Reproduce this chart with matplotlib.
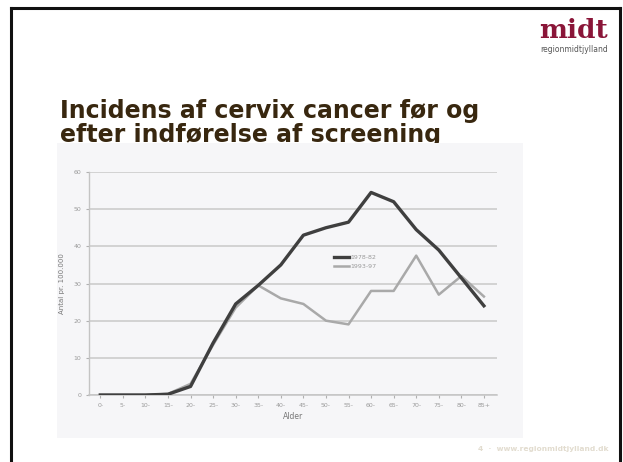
import matplotlib
matplotlib.use("Agg")
import matplotlib.pyplot as plt
from matplotlib.patches import Rectangle
from matplotlib.lines import Line2D

age_groups = ["0-", "5-", "10-", "15-", "20-", "25-", "30-", "35-", "40-", "45-",
              "50-", "55-", "60-", "65-", "70-", "75-", "80-", "85+"]
rate_1978_82 = [0, 0, 0, 0.2, 2.3, 14, 24.5, 29.5, 35, 43, 45, 46.5, 54.5, 52, 44.5, 39, 31.5, 24]
rate_1993_97 = [0, 0, 0, 0.3, 3, 13.5, 23.5, 29.5, 26, 24.5, 20, 19, 28, 28, 37.5, 27, 32, 26.5]
y_ticks = [0, 10, 20, 30, 40, 50, 60]
legend_labels = ["1978-82", "1993-97"]

W, H = 623, 462
fig = plt.figure(figsize=(W / 100, H / 100), dpi=100)
fig.patch.set_facecolor("white")

def fx(px):
    return px / W

def fy(py):
    return 1 - py / H

# slide frame (top, left, right)
fig.add_artist(Line2D([fx(11), fx(620)], [fy(8), fy(8)], color="#111111", lw=2.2))
fig.add_artist(Line2D([fx(11), fx(11)], [fy(8), fy(462)], color="#111111", lw=2.2))
fig.add_artist(Line2D([fx(620), fx(620)], [fy(8), fy(462)], color="#111111", lw=2.2))

# chart image background
fig.add_artist(Rectangle((fx(57), fy(438)), fx(523) - fx(57), fy(143) - fy(438),
                         facecolor="#f6f6f8", edgecolor="none", zorder=0))

# title
fig.text(fx(60), fy(118), "Incidens af cervix cancer før og", fontsize=17, fontweight="bold",
         color="#38270f", ha="left", va="baseline", family="DejaVu Sans", zorder=-1)
fig.text(fx(60), fy(142), "efter indførelse af screening", fontsize=17, fontweight="bold",
         color="#38270f", ha="left", va="baseline", family="DejaVu Sans", zorder=-1)

# logo
fig.text(fx(608), fy(38), "midt", fontsize=19, fontweight="bold", color="#8a1538",
         ha="right", va="baseline", family="DejaVu Serif")
fig.text(fx(608), fy(52), "regionmidtjylland", fontsize=5.5, color="#555555",
         ha="right", va="baseline", family="DejaVu Sans")

# footer
fig.text(fx(608), fy(451), "4  ·  www.regionmidtjylland.dk", fontsize=5.4, fontweight="bold",
         color="#e2dccf", ha="right", va="baseline", family="DejaVu Sans")

# axes
ax = fig.add_axes([fx(89), fy(395), fx(497) - fx(89), fy(172) - fy(395)])
ax.set_facecolor("none")
x = list(range(len(age_groups)))
ax.plot(x, rate_1993_97, color="#a9a9a9", lw=1.8, label=legend_labels[1], zorder=3)
ax.plot(x, rate_1978_82, color="#3f3f3f", lw=2.4, label=legend_labels[0], zorder=4)
ax.set_xlim(-0.5, 17.58)
ax.set_ylim(0, 60)
ax.set_yticks(y_ticks)
ax.set_xticks(x)
ax.set_xticklabels(age_groups)
ax.grid(axis="y", color="#c9c9c9", lw=1.1)
ax.set_axisbelow(True)
for s in ["top", "right"]:
    ax.spines[s].set_visible(False)
ax.spines["left"].set_color("#c4c4c4")
ax.spines["bottom"].set_color("#c4c4c4")
ax.spines["left"].set_linewidth(1.0)
ax.spines["bottom"].set_linewidth(1.1)
ax.tick_params(axis="both", colors="#b0b0b0", labelcolor="#9a9a9a", labelsize=4.5, length=2)
ax.set_xlabel("Alder", fontsize=5.5, color="#777777", labelpad=3)
ax.set_ylabel("Antal pr. 100.000", fontsize=5, color="#777777", labelpad=6)

handles, labels = ax.get_legend_handles_labels()
leg = ax.legend(handles[::-1], labels[::-1], loc="upper left", bbox_to_anchor=(0.595, 0.64),
                frameon=False, fontsize=4.5, handlelength=2.4, handletextpad=0.1,
                labelspacing=0.6, borderaxespad=0)
for t in leg.get_texts():
    t.set_color("#9a9a9a")

fig.savefig("out.png", dpi=100)
